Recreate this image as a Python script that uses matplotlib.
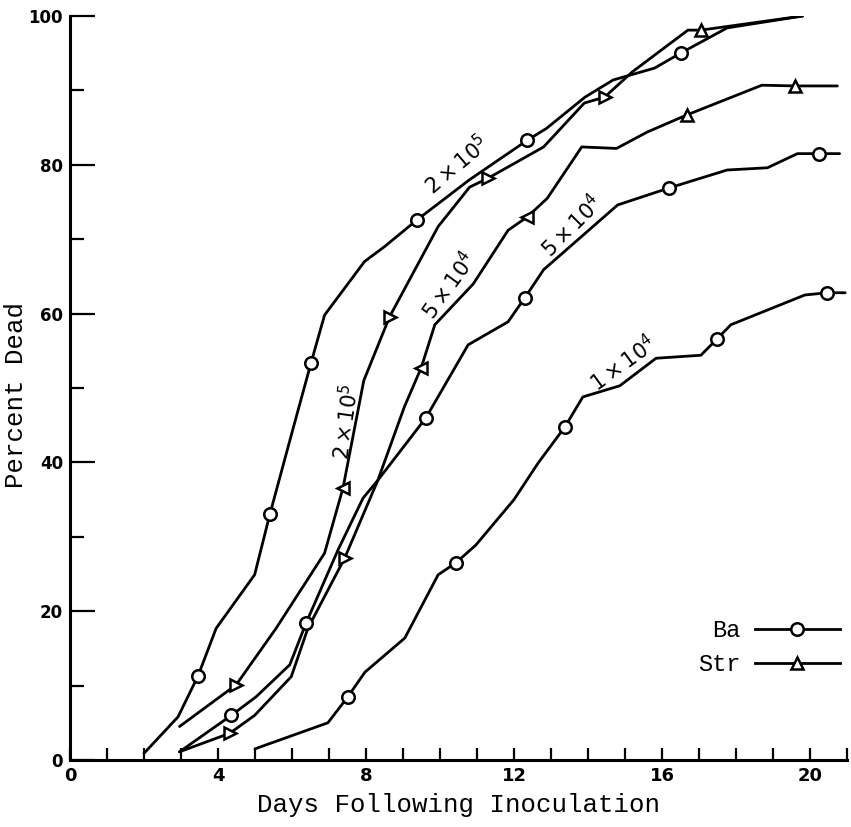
import matplotlib
matplotlib.use("Agg")
import matplotlib.pyplot as plt
from matplotlib.lines import Line2D
from matplotlib.ticker import MultipleLocator

plt.rcParams['mathtext.fontset'] = 'dejavusans'

# Ba, 2 x 10^5
ba_2e5_x = [2.0, 2.92, 3.46, 3.95, 4.99, 5.4, 6.07, 6.51, 6.88, 7.96, 8.5, 9.38,
            10.8, 12.36, 12.88, 13.92, 14.68, 15.8, 16.5, 17.76, 19.8]
ba_2e5_y = [0.9, 5.8, 11.3, 17.7, 24.9, 33.0, 45.3, 53.3, 59.8, 67.0, 69.0, 72.6,
            78.0, 83.3, 84.9, 89.1, 91.4, 93.0, 95.0, 98.4, 100.0]
ba_2e5_mx = [3.46, 5.4, 6.51, 9.38, 12.36, 16.5]
ba_2e5_my = [11.3, 33.0, 53.3, 72.6, 83.3, 95.0]

# Str, 2 x 10^5
str_2e5_x = [2.96, 4.49, 5.57, 6.88, 7.38, 7.94, 8.64, 9.95, 10.8, 11.3, 12.8,
             13.9, 14.45, 15.2, 16.7, 17.05, 19.8]
str_2e5_y = [4.5, 10.1, 17.7, 27.8, 36.6, 51.0, 59.6, 71.7, 77.0, 78.2, 82.4,
             88.3, 89.1, 92.5, 98.1, 98.1, 100.0]
str_2e5_mx = [4.49, 7.38, 8.64, 11.3, 14.45, 17.05]
str_2e5_my = [10.1, 36.6, 59.6, 78.2, 89.1, 98.1]

# Ba, 5 x 10^4
ba_5e4_x = [2.96, 4.36, 5.03, 5.94, 6.38, 7.24, 7.92, 8.32, 9.62, 10.76, 11.84,
            12.29, 12.8, 14.8, 16.2, 17.76, 18.85, 19.66, 20.24, 20.8]
ba_5e4_y = [1.1, 6.0, 8.5, 12.8, 18.4, 28.2, 35.2, 37.6, 46.0, 55.8, 58.9,
            62.1, 65.9, 74.6, 76.9, 79.3, 79.6, 81.5, 81.5, 81.5]
ba_5e4_mx = [4.36, 6.38, 9.62, 12.29, 16.2, 20.24]
ba_5e4_my = [6.0, 18.4, 46.0, 62.1, 76.9, 81.5]

# Str, 5 x 10^4
str_5e4_x = [2.96, 4.32, 4.99, 5.98, 6.43, 7.42, 8.32, 9.04, 9.49, 9.86, 10.9,
             11.84, 12.36, 12.9, 13.83, 14.77, 15.6, 16.67, 18.7, 19.6, 20.74]
str_5e4_y = [1.1, 3.6, 6.0, 11.2, 17.7, 27.1, 37.6, 47.5, 52.7, 58.5, 64.0,
             71.2, 73.0, 75.5, 82.4, 82.2, 84.4, 86.7, 90.7, 90.6, 90.6]
str_5e4_mx = [4.32, 7.42, 9.49, 12.36, 16.67, 19.6]
str_5e4_my = [3.6, 27.1, 52.7, 73.0, 86.7, 90.6]

# Ba, 1 x 10^4
ba_1e4_x = [5.0, 6.97, 7.51, 7.97, 9.05, 9.95, 10.43, 10.97, 12.0, 12.65, 13.38,
            13.86, 14.86, 15.84, 17.05, 17.49, 17.86, 19.86, 20.46, 20.95]
ba_1e4_y = [1.5, 5.0, 8.5, 11.8, 16.4, 24.9, 26.5, 28.9, 35.0, 39.9, 44.8,
            48.8, 50.3, 54.0, 54.4, 56.6, 58.5, 62.5, 62.8, 62.8]
ba_1e4_mx = [7.51, 10.43, 13.38, 17.49, 20.46]
ba_1e4_my = [8.5, 26.5, 44.8, 56.6, 62.8]

# hand drawn triangles do not all point the same way
str_2e5_tri = ['>', '<', '>', '>', '>', '^']
str_5e4_tri = ['>', '>', '<', '<', '^', '^']

dose_labels = [r'$2\times10^5$', r'$2\times10^5$', r'$5\times10^4$', r'$5\times10^4$', r'$1\times10^4$']
dose_label_x = [10.45, 7.45, 10.25, 13.55, 14.95]
dose_label_y = [80.0, 45.5, 63.8, 71.8, 53.3]
dose_label_rot = [40, 82, 54, 45, 36]

mono = ['Liberation Mono', 'DejaVu Sans Mono']
LW = 2.0
MS = 9

fig = plt.figure(figsize=(8.51, 8.27), dpi=100)
ax = fig.add_axes([70 / 851, 1 - 760 / 827, 777 / 851, 744 / 827])

line_kw = dict(color='black', lw=LW, solid_joinstyle='round', solid_capstyle='round', zorder=2)
circ_kw = dict(marker='o', ms=MS, mfc='white', mec='black', mew=1.8, ls='none', zorder=3)

for xs, ys in [(ba_2e5_x, ba_2e5_y), (str_2e5_x, str_2e5_y), (ba_5e4_x, ba_5e4_y),
               (str_5e4_x, str_5e4_y), (ba_1e4_x, ba_1e4_y)]:
    ax.plot(xs, ys, **line_kw)

ax.plot(ba_2e5_mx, ba_2e5_my, **circ_kw)
ax.plot(ba_5e4_mx, ba_5e4_my, **circ_kw)
ax.plot(ba_1e4_mx, ba_1e4_my, **circ_kw)

for mx, my, tri in [(str_2e5_mx, str_2e5_my, str_2e5_tri), (str_5e4_mx, str_5e4_my, str_5e4_tri)]:
    for x, y, m in zip(mx, my, tri):
        ax.plot([x], [y], marker=m, ms=MS, mfc='white', mec='black', mew=1.8,
                ls='none', zorder=3)

for txt, x, y, r in zip(dose_labels, dose_label_x, dose_label_y, dose_label_rot):
    ax.text(x, y, txt, rotation=r, ha='center', va='center', fontsize=15,
            rotation_mode='anchor', zorder=4)

ax.set_xlim(0, 21)
ax.set_ylim(0, 100)
ax.spines['top'].set_visible(False)
ax.spines['right'].set_visible(False)
for s in ['left', 'bottom']:
    ax.spines[s].set_linewidth(2.2)

ax.xaxis.set_major_locator(MultipleLocator(4))
ax.xaxis.set_minor_locator(MultipleLocator(1))
ax.yaxis.set_major_locator(MultipleLocator(20))
ax.yaxis.set_minor_locator(MultipleLocator(10))
ax.tick_params(axis='x', which='both', direction='in', length=9, width=1.6)
ax.tick_params(axis='y', which='major', direction='in', length=18, width=1.6)
ax.tick_params(axis='y', which='minor', direction='in', length=10, width=1.6)
ax.tick_params(axis='x', which='major', pad=5, labelsize=13)
ax.tick_params(axis='y', which='major', pad=5, labelsize=12)
for lab in ax.get_xticklabels() + ax.get_yticklabels():
    lab.set_fontweight('bold')

ax.set_xlabel('Days Following Inoculation', family=mono, fontsize=18.5, labelpad=6)
ax.set_ylabel('Percent Dead', family=mono, fontsize=18.5)
ax.yaxis.set_label_coords(-0.054, 0.49)

handles = [
    Line2D([], [], color='black', lw=LW, marker='o', ms=MS, mfc='white', mec='black', mew=1.8),
    Line2D([], [], color='black', lw=LW, marker='^', ms=MS, mfc='white', mec='black', mew=1.8),
]
leg = ax.legend(handles, ['Ba', 'Str'], loc='upper left', bbox_to_anchor=(0.793, 0.205),
                frameon=False, markerfirst=False, handlelength=3.6, handletextpad=0.6,
                labelspacing=0.45, borderpad=0, prop={'family': mono, 'size': 17})

fig.savefig('out.png', dpi=100)
